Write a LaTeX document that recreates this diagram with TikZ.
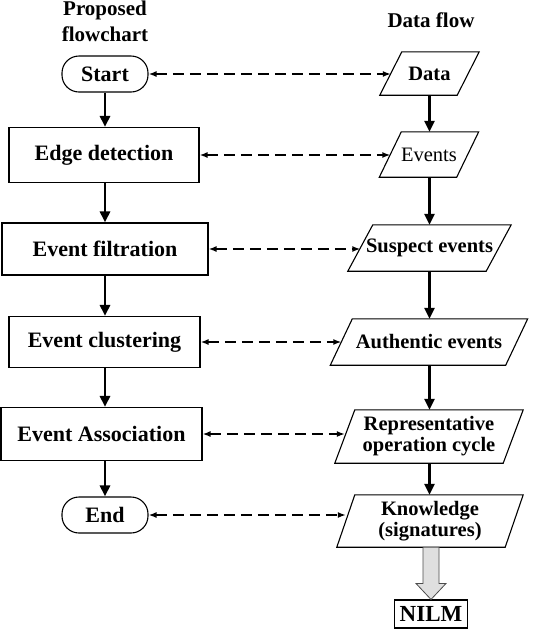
\documentclass[tikz,border=0pt]{standalone}
\usepackage{fontspec}
\setmainfont{Liberation Serif}
\usetikzlibrary{arrows.meta,calc}
\begin{document}
\begin{tikzpicture}[x=1pt,y=-1pt,
  lbox/.style={draw=black, line width=1.1pt, inner sep=0pt, font=\fontsize{22}{24}\selectfont\bfseries},
  term/.style={lbox, rounded corners=17pt, minimum width=86pt, minimum height=36pt},
  pnode/.style={inner sep=0pt, align=center, font=\fontsize{20.5}{21}\selectfont\bfseries},
  pline/.style={draw=black, line width=1.1pt, line join=miter},
  flow/.style={line width=2.6pt, -{Triangle[length=11pt,width=10pt]}},
  link/.style={line width=1.5pt, dash pattern=on 11pt off 6pt, {Latex[length=8pt,width=6pt]}-{Latex[length=8pt,width=6pt]}},
  title/.style={font=\fontsize{21}{26}\selectfont\bfseries, inner sep=0pt, anchor=base}]
\useasboundingbox (0,0) rectangle (534,638);

% titles
\node[title] (t1) at (105,15) {Proposed};
\node[title] (t2) at (105,41) {flowchart};
\node[title] (t3) at (431,27) {Data flow};

% left column
\node[term] (start) at (105,74) {Start};
\node[lbox, minimum width=190pt, minimum height=55pt] (edge) at (104,155) {Edge detection};
\node[lbox, minimum width=206pt, minimum height=52pt] (filt) at (105,249) {Event filtration};
\node[lbox, minimum width=191pt, minimum height=51pt] (clus) at (104.5,342) {Event clustering};
\node[lbox, minimum width=201pt, minimum height=53pt] (assoc) at (101.5,434) {Event Association};
\node[term] (end) at (105,515) {End};

% right column
\node[pnode, minimum width=77pt, minimum height=43pt] (data) at (429.5,73.5) {Data};
\node[pnode, minimum width=77pt, minimum height=45pt, font=\fontsize{20.5}{21}\selectfont] (events) at (429,154.5) {Events};
\node[pnode, minimum width=138pt, minimum height=46pt] (susp) at (429.5,248) {Suspect events};
\node[pnode, minimum width=175pt, minimum height=46pt] (auth) at (429,342) {Authentic events};
\node[pnode, minimum width=168pt, minimum height=53pt] (repr) at (429,436.5) {Representative\\operation cycle};
\node[pnode, minimum width=168pt, minimum height=52pt] (know) at (430,521) {Knowledge\\(signatures)};
\node[lbox, font=\fontsize{23}{25}\selectfont\bfseries, minimum width=73pt, minimum height=28pt] (nilm) at (431,614) {NILM};

% parallelogram outlines
\foreach \n/\s in {data/22, events/22, susp/25, auth/22, repr/20, know/18}
  \draw[pline] ($(\n.north west)+(\s/2,0)$) -- ($(\n.north east)+(\s/2,0)$)
     -- ($(\n.south east)+(-\s/2,0)$) -- ($(\n.south west)+(-\s/2,0)$) -- cycle;

% left flow
\draw[flow] (start.south) -- (start.south |- edge.north);
\draw[flow] (edge.south -| start.south) -- (start.south |- filt.north);
\draw[flow] (filt.south -| start.south) -- (start.south |- clus.north);
\draw[flow] (clus.south -| start.south) -- (start.south |- assoc.north);
\draw[flow] (assoc.south -| start.south) -- (end.north);

% right flow
\draw[flow] (data.south) -- (data.south |- events.north);
\draw[flow] (events.south -| data.south) -- (data.south |- susp.north);
\draw[flow] (susp.south -| data.south) -- (data.south |- auth.north);
\draw[flow] (auth.south -| data.south) -- (data.south |- repr.north);
\draw[flow] (repr.south -| data.south) -- (data.south |- know.north);

% dashed links
\draw[link] (start.east) -- (start.east -| data.west);
\draw[link] (edge.east) -- (edge.east -| events.west);
\draw[link] (filt.east) -- (filt.east -| susp.west);
\draw[link] (clus.east) -- (clus.east -| auth.west);
\draw[link] (assoc.east) -- (assoc.east -| repr.west);
\draw[link] (end.east) -- (end.east -| know.west);

% hollow arrow to NILM
\draw[fill=gray!25, draw=gray!60!black, line width=0.8pt, line join=miter]
  ($(know.south -| nilm.north)+(-8,0)$) -- ($(nilm.north)+(-8,-16)$) -- ($(nilm.north)+(-15,-16)$)
  -- (nilm.north) -- ($(nilm.north)+(15,-16)$) -- ($(nilm.north)+(8,-16)$)
  -- ($(know.south -| nilm.north)+(8,0)$) -- cycle;
\end{tikzpicture}
\end{document}
